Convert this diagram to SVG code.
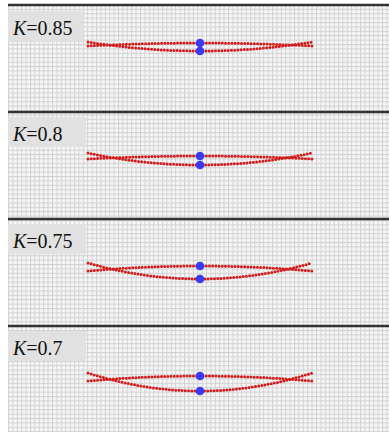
<svg xmlns="http://www.w3.org/2000/svg" width="389" height="432" viewBox="0 0 389 432">
<style>
.sep{stroke:#333333;stroke-width:2.5}
.lbl{fill:#e1e1e1}
.txt{font-family:"Liberation Serif","Times New Roman",serif;font-size:20px;fill:#111}
.rope{fill:none;stroke:#d01c1c;stroke-width:3;stroke-linecap:round;stroke-dasharray:0 3.2}
.node{fill:#3a3af0}
</style>
<defs>
<pattern id="grid" x="8" y="0" width="4.4" height="4.4" patternUnits="userSpaceOnUse">
<rect width="4.4" height="4.4" fill="#f6f6f6"/>
<path d="M0 0.5H4.4M0.5 0V4.4" stroke="#d2d2d2" stroke-width="1"/>
</pattern>
</defs>
<rect width="389" height="432" fill="#ffffff"/>
<rect x="8" y="5" width="381" height="427" fill="url(#grid)"/>

<g id="panel1">
<line class="sep" x1="8" y1="5" x2="389" y2="5"/>
<rect class="lbl" x="8" y="11" width="75" height="31"/>
<text class="txt" x="13" y="35"><tspan font-style="italic">K</tspan>=0.85</text>
<path class="rope" d="M88 42Q200 60 312 42"/>
<path class="rope" d="M88 46Q200 40 312 46"/>
<circle class="node" cx="200" cy="43" r="4.3"/>
<circle class="node" cx="200" cy="51" r="4.3"/>
</g>

<g id="panel2">
<line class="sep" x1="8" y1="112" x2="389" y2="112"/>
<rect class="lbl" x="8" y="117" width="78" height="30"/>
<text class="txt" x="13" y="141"><tspan font-style="italic">K</tspan>=0.8</text>
<path class="rope" d="M88 153Q200 177 312 153"/>
<path class="rope" d="M88 159Q200 153 312 159"/>
<circle class="node" cx="200" cy="156" r="4.3"/>
<circle class="node" cx="200" cy="165" r="4.3"/>
</g>

<g id="panel3">
<line class="sep" x1="8" y1="219" x2="389" y2="219"/>
<rect class="lbl" x="8" y="224" width="78" height="30"/>
<text class="txt" x="13" y="248"><tspan font-style="italic">K</tspan>=0.75</text>
<path class="rope" d="M88 263Q200 295 312 263"/>
<path class="rope" d="M88 271Q200 261 312 271"/>
<circle class="node" cx="200" cy="266" r="4.3"/>
<circle class="node" cx="200" cy="279" r="4.3"/>
</g>

<g id="panel4">
<line class="sep" x1="8" y1="326" x2="389" y2="326"/>
<rect class="lbl" x="8" y="331" width="78" height="30"/>
<text class="txt" x="13" y="355"><tspan font-style="italic">K</tspan>=0.7</text>
<path class="rope" d="M88 373Q200 409 312 373"/>
<path class="rope" d="M88 381Q200 371 312 381"/>
<circle class="node" cx="200" cy="376" r="4.3"/>
<circle class="node" cx="200" cy="391" r="4.3"/>
</g>

<g id="connectors"></g>
</svg>
